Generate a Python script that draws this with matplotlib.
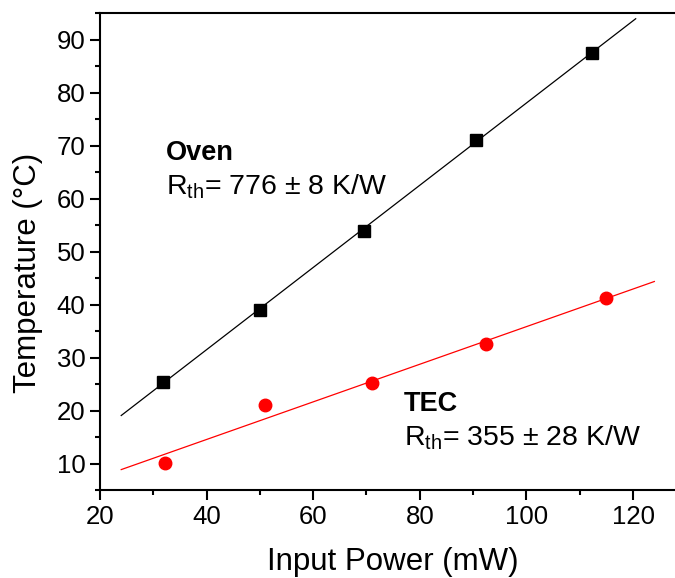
import numpy as np
import matplotlib
matplotlib.use('Agg')
import matplotlib.pyplot as plt
from matplotlib.ticker import MultipleLocator

plt.rcParams['font.family'] = ['Liberation Sans', 'DejaVu Sans']
plt.rcParams['mathtext.fontset'] = 'custom'
plt.rcParams['mathtext.rm'] = 'Liberation Sans'

# Oven measurements
oven_power = [31.8, 50.0, 69.5, 90.5, 112.3]
oven_temp = [25.5, 39.0, 54.0, 71.0, 87.6]
oven_rth = 776  # K/W
oven_fit_range = [24, 120.5]

# TEC measurements
tec_power = [32.2, 51.0, 71.0, 92.5, 115.0]
tec_temp = [10.2, 21.0, 25.2, 32.5, 41.3]
tec_rth = 355  # K/W
tec_fit_range = [24, 124]


def fit_line(p, t, rth, xr):
    # slope in K/mW, intercept by least squares for the fixed slope
    k = rth / 1000.0
    b = np.mean(t) - k * np.mean(p)
    xs = np.array(xr)
    return xs, k * xs + b


fig = plt.figure(figsize=(6.75, 5.78), dpi=100)
# axes runs slightly past the right edge, so only the top frame line shows there
ax = fig.add_axes([0.148, 0.152, 0.868, 0.825])

x, y = fit_line(oven_power, oven_temp, oven_rth, oven_fit_range)
ax.plot(x, y, color='black', lw=0.9)
ax.plot(oven_power, oven_temp, 's', color='black', ms=8)

x, y = fit_line(tec_power, tec_temp, tec_rth, tec_fit_range)
ax.plot(x, y, color='red', lw=0.9)
ax.plot(tec_power, tec_temp, 'o', color='red', ms=9)

ax.set_xlim(20, 129.9)
ax.set_ylim(5, 95)
ax.xaxis.set_major_locator(MultipleLocator(20))
ax.xaxis.set_minor_locator(MultipleLocator(10))
ax.yaxis.set_major_locator(MultipleLocator(10))
ax.yaxis.set_minor_locator(MultipleLocator(5))
ax.tick_params(which='major', length=7, width=1.5, labelsize=18.5, direction='out')
ax.tick_params(which='minor', length=3.5, width=1.5, direction='out')
for s in ['left', 'bottom', 'top']:
    ax.spines[s].set_linewidth(1.5)
ax.spines['right'].set_visible(False)

ax.set_xlabel('Input Power (mW)', fontsize=22.5, labelpad=13)
ax.set_ylabel('Temperature (°C)', fontsize=22.5)
ax.yaxis.set_label_coords(-0.097, 0.456)

ax.text(32.4, 67.4, 'Oven', fontsize=19.5, fontweight='bold')
ax.text(32.4, 60.8, r'R$_{\rm th}$= 776 ± 8 K/W', fontsize=20.5)
ax.text(77, 19.9, 'TEC', fontsize=19.5, fontweight='bold')
ax.text(77, 13.5, r'R$_{\rm th}$= 355 ± 28 K/W', fontsize=20.5)

plt.savefig('out.png', dpi=100)
